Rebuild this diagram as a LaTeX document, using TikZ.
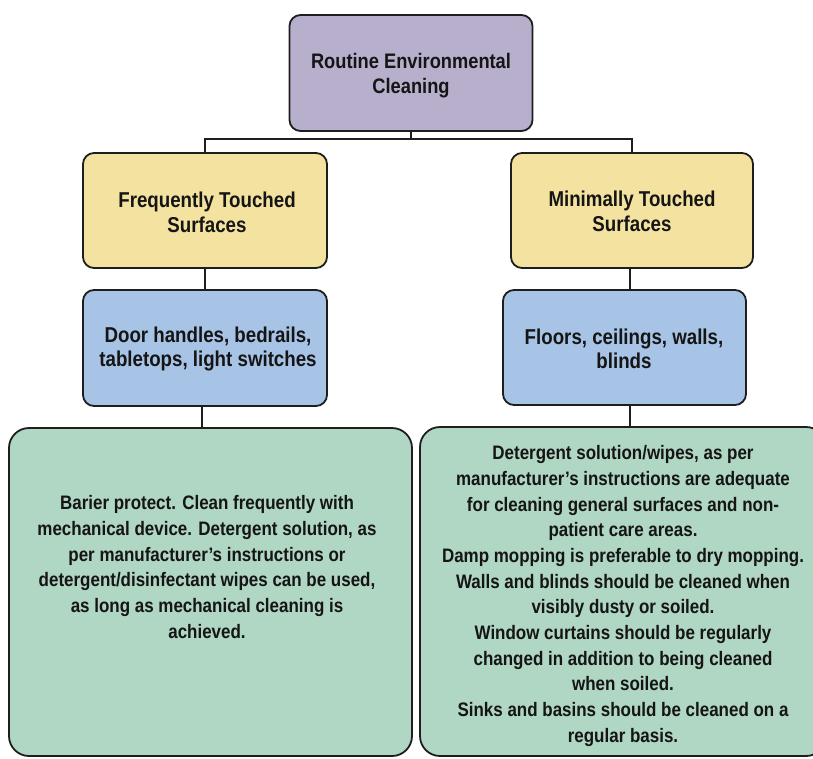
\documentclass[tikz,border=0pt]{standalone}
\usepackage{fontspec}
\newfontfamily\diag{Liberation Sans}[FakeStretch=0.87]
\definecolor{cpurple}{HTML}{B7AFCB}
\definecolor{cyellow}{HTML}{F3E2A0}
\definecolor{cblue}{HTML}{A7C3E6}
\definecolor{cgreen}{HTML}{B0D6C4}
\definecolor{cline}{HTML}{1E1E1E}
\definecolor{ctext}{HTML}{151515}
\begin{document}
\begin{tikzpicture}[x=1pt,y=-1pt,
  box/.style={draw=cline, line width=1.8pt, rounded corners=11pt, inner sep=0pt},
  txt/.style={inner sep=0pt, align=center, text=ctext, font=\diag\bfseries},
  conn/.style={draw=cline, line width=1.8pt}]
\useasboundingbox (0,0) rectangle (813,758);
% boxes
\node[box, fill=cpurple, minimum width=243, minimum height=116] (top) at (411,73) {};
\node[box, fill=cyellow, minimum width=244, minimum height=115] (y1) at (205,210.5) {};
\node[box, fill=cyellow, minimum width=242, minimum height=115] (y2) at (632,210.5) {};
\node[box, fill=cblue, minimum width=244, minimum height=116] (b1) at (205,348) {};
\node[box, fill=cblue, minimum width=243, minimum height=115] (b2) at (624.5,347.5) {};
\node[box, fill=cgreen, rounded corners=20pt, minimum width=403, minimum height=328] (g1) at (210.5,592) {};
\node[box, fill=cgreen, rounded corners=20pt, minimum width=406, minimum height=329] (g2) at (623,591.5) {};
% texts
\node[txt, font=\diag\bfseries\fontsize{21}{25}\selectfont] (ttop) at (411,76) {Routine Environmental\\Cleaning};
\node[txt, font=\diag\bfseries\fontsize{21.5}{25}\selectfont] (ty1) at (207,212) {Frequently Touched\\Surfaces};
\node[txt, font=\diag\bfseries\fontsize{21.5}{25}\selectfont] (ty2) at (632,211) {Minimally Touched\\Surfaces};
\node[txt, font=\diag\bfseries\fontsize{21.5}{24.5}\selectfont] (tb1) at (208,349) {Door handles, bedrails,\\tabletops, light switches};
\node[txt, font=\diag\bfseries\fontsize{21.5}{24.5}\selectfont] (tb2) at (624,349) {Floors, ceilings, walls,\\blinds};
\node[txt, font=\diag\bfseries\fontsize{19.5}{25.7}\selectfont] (tg1) at (207,567) {Barier protect. Clean frequently with\\mechanical device. Detergent solution, as\\per manufacturer’s instructions or\\detergent/disinfectant wipes can be used,\\as long as mechanical cleaning is\\achieved.};
\node[txt, font=\diag\bfseries\fontsize{19.5}{25.7}\selectfont] (tg2) at (623,596) {Detergent solution/wipes, as per\\manufacturer’s instructions are adequate\\for cleaning general surfaces and non-\\patient care areas.\\Damp mopping is preferable to dry mopping.\\Walls and blinds should be cleaned when\\visibly dusty or soiled.\\Window curtains should be regularly\\changed in addition to being cleaned\\when soiled.\\Sinks and basins should be cleaned on a\\regular basis.};
% connectors
\coordinate (hub) at (411,139);
\draw[conn] (top.south) -- (hub);
\draw[conn] (hub) -| (y1.north);
\draw[conn] (hub) -| (y2.north);
\draw[conn] (y1.south) -- (b1.north);
\draw[conn] (y2.south -| 630,0) -- (b2.north -| 630,0);
\draw[conn] (b1.south -| 202,0) -- (g1.north -| 202,0);
\draw[conn] (b2.south -| 630,0) -- (g2.north -| 630,0);
\end{tikzpicture}
\end{document}
